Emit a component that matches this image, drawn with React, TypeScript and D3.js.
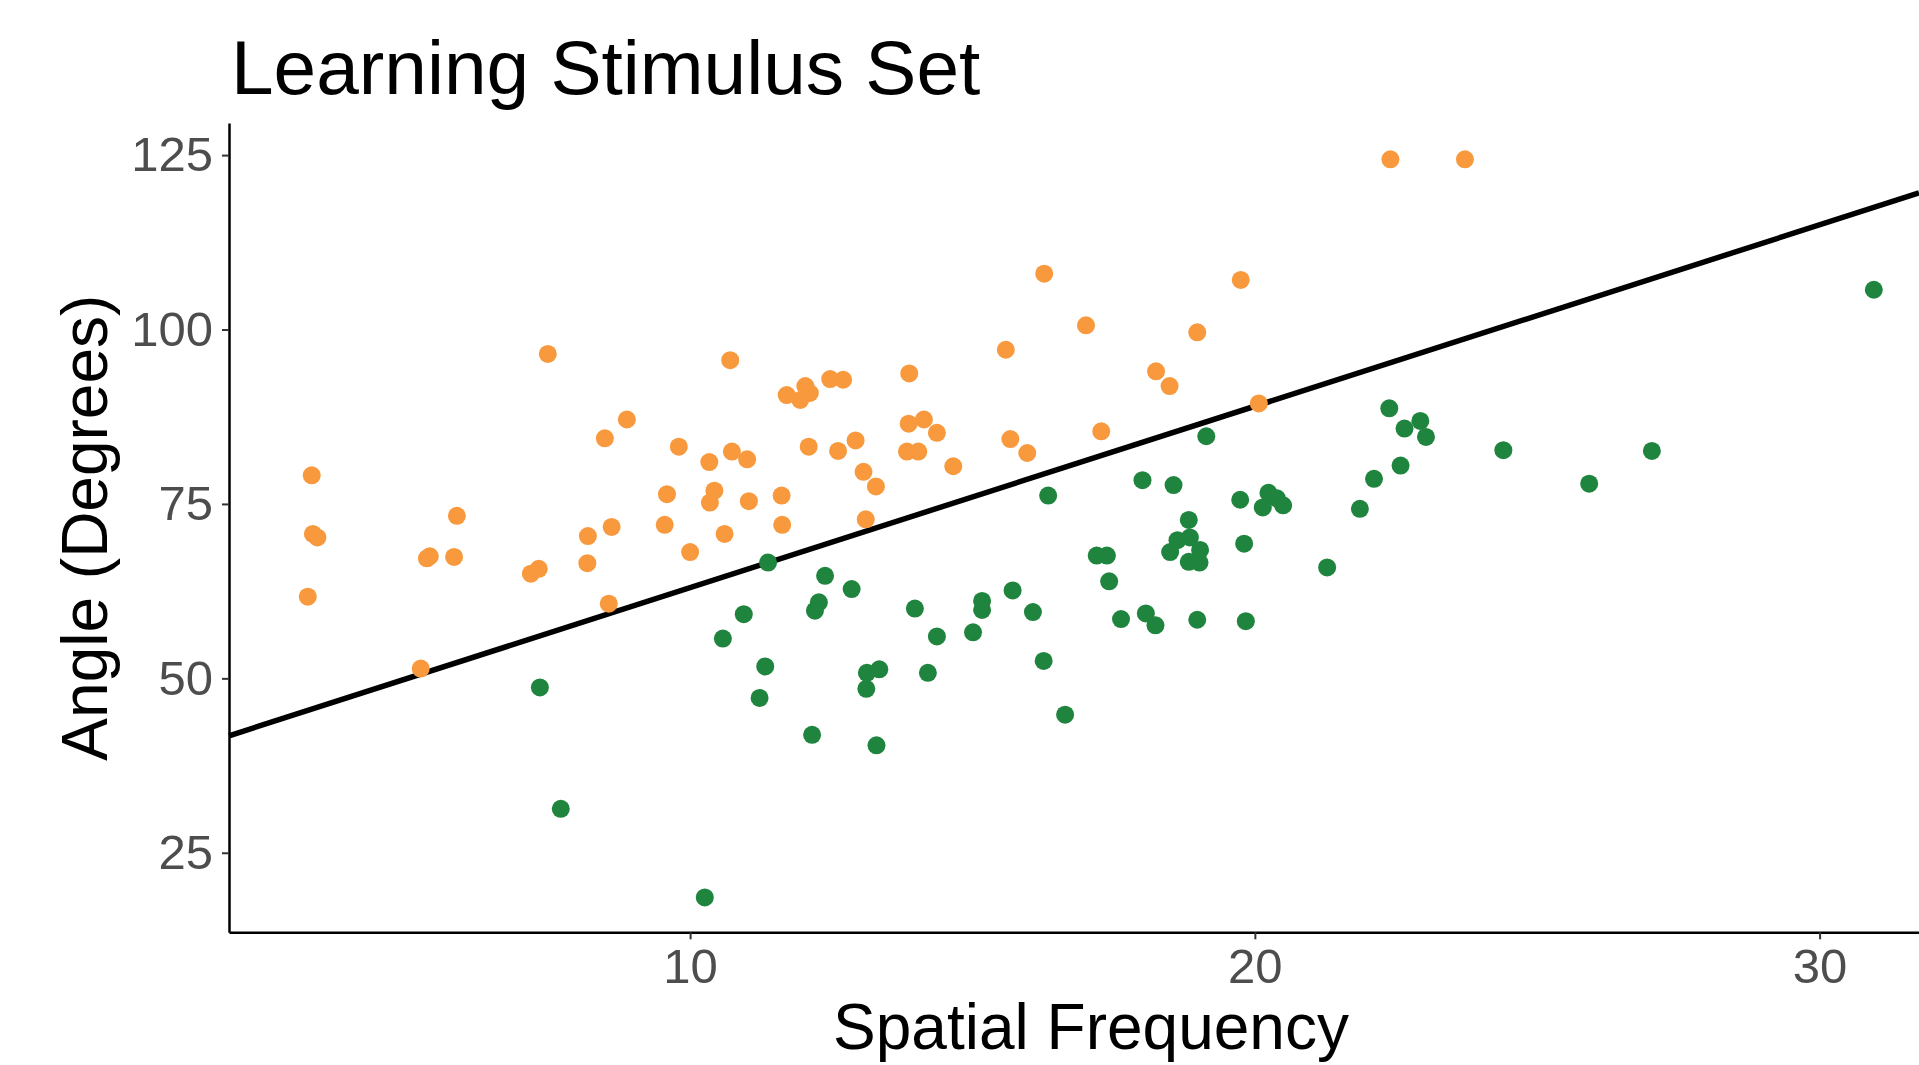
import React, { useEffect, useRef } from 'react';
import * as d3 from 'd3';

// spatial frequency / angle pairs
const orangeSF = [3.30, 3.32, 3.40, 3.23, 5.23, 5.34, 5.39, 5.82, 5.87, 7.18, 7.32, 7.48, 8.19, 8.18, 8.49, 8.56,
  8.61, 8.88, 9.55, 9.59, 9.80, 10.00, 10.34, 10.43, 10.35, 10.61, 10.71, 10.74, 11.01, 11.04, 11.62, 11.63,
  11.71, 11.95, 12.04, 12.12, 12.10, 12.48, 12.71, 12.62, 12.93, 13.07, 13.11, 13.29, 13.84, 14.04, 13.87, 14.14,
  13.88, 14.37, 14.66, 15.59, 15.67, 15.97, 16.27, 17.01, 17.28, 18.25, 18.49, 18.98, 19.75, 20.07, 22.40, 23.72];
const orangeAngle = [79.1, 70.7, 70.2, 61.7, 51.4, 67.2, 67.5, 67.4, 73.3, 65.0, 65.7, 96.5, 70.4, 66.5, 84.4, 60.7,
  71.7, 87.1, 72.0, 76.4, 83.2, 68.1, 81.0, 76.9, 75.2, 70.7, 95.6, 82.5, 81.4, 75.4, 76.2, 72.0,
  90.6, 89.9, 91.9, 90.9, 83.2, 92.9, 92.8, 82.6, 84.1, 79.6, 72.8, 77.5, 82.5, 82.5, 86.5, 87.1,
  93.7, 85.2, 80.4, 97.1, 84.3, 82.3, 108.0, 100.6, 85.4, 94.0, 91.9, 99.6, 107.1, 89.4, 124.4, 124.4];

const greenSF = [7.34, 7.71, 10.26, 10.58, 10.95, 11.23, 11.33, 11.38, 12.16, 12.21, 12.28, 12.39, 12.86, 13.12, 13.13, 13.35,
  13.30, 13.98, 14.21, 14.37, 15.01, 15.17, 15.17, 15.71, 16.07, 16.26, 16.34, 16.64, 17.20, 17.38, 17.42, 17.63,
  18.01, 18.07, 18.24, 18.56, 18.83, 18.63, 18.85, 19.03, 18.50, 18.83, 19.02, 18.98, 19.14, 19.74, 19.81, 19.84,
  20.24, 20.39, 20.50, 20.14, 21.28, 21.86, 22.11, 22.38, 22.65, 22.93, 23.03, 22.58, 24.40, 25.92, 27.03, 30.96];
const greenAngle = [48.7, 31.3, 18.6, 55.7, 59.2, 47.2, 51.7, 66.6, 41.9, 59.7, 60.9, 64.7, 62.8, 48.5, 50.8, 51.3,
  40.4, 60.0, 50.8, 56.0, 56.6, 61.1, 59.8, 62.6, 59.5, 52.5, 76.2, 44.8, 67.6, 67.6, 63.9, 58.5,
  78.4, 59.3, 57.6, 77.7, 72.7, 69.8, 70.2, 68.4, 68.1, 66.7, 66.6, 58.4, 84.7, 75.6, 69.3, 58.2,
  76.6, 75.8, 74.8, 74.5, 65.9, 74.3, 78.6, 88.7, 85.8, 86.9, 84.6, 80.5, 82.7, 77.9, 82.6, 105.7];

const lineIntercept = 37.0;
const lineSlope = 2.6;

const xTicks = [10, 20, 30];
const yTicks = [25, 50, 75, 100, 125];

const W = 1919;
const H = 1065;
const FONT = '"Liberation Sans", Arial, Helvetica, sans-serif';

export default function App() {
  const svgRef = useRef<SVGSVGElement>(null);

  useEffect(() => {
    if (!svgRef.current) return;
    const svg = d3.select(svgRef.current);
    svg.selectAll('*').remove();

    const left = 229, right = W, top = 123, bottom = 932.3;

    const x = d3.scaleLinear().domain([1.835, 31.76]).range([left, right]);
    const y = d3.scaleLinear().domain([13.6, 129.6]).range([bottom, top]);

    svg.append('rect').attr('width', W).attr('height', H).attr('fill', '#ffffff');

    // title
    svg.append('text')
      .attr('x', 231)
      .attr('y', 94)
      .attr('font-family', FONT)
      .attr('font-size', 76.6)
      .attr('fill', '#000')
      .text('Learning Stimulus Set');

    // fitted line
    const line = d3.line<number>()
      .x(d => x(d))
      .y(d => y(lineIntercept + lineSlope * d));

    svg.append('path')
      .datum(x.domain())
      .attr('fill', 'none')
      .attr('stroke', '#000')
      .attr('stroke-width', 5.5)
      .attr('d', line);

    const pts = svg.append('g');
    pts.selectAll('circle.o')
      .data(orangeSF.map((v, i) => [v, orangeAngle[i]]))
      .join('circle')
      .attr('class', 'o')
      .attr('cx', d => x(d[0]))
      .attr('cy', d => y(d[1]))
      .attr('r', 9)
      .attr('fill', '#F8993D');

    pts.selectAll('circle.g')
      .data(greenSF.map((v, i) => [v, greenAngle[i]]))
      .join('circle')
      .attr('class', 'g')
      .attr('cx', d => x(d[0]))
      .attr('cy', d => y(d[1]))
      .attr('r', 9)
      .attr('fill', '#1F853E');

    // axes
    const xAxis = svg.append('g')
      .attr('transform', `translate(0,${bottom})`)
      .call(d3.axisBottom(x).tickValues(xTicks).tickSize(7).tickSizeOuter(0).tickPadding(9));
    const yAxis = svg.append('g')
      .attr('transform', `translate(${left},0)`)
      .call(d3.axisLeft(y).tickValues(yTicks).tickSize(7).tickSizeOuter(0).tickPadding(9));

    [xAxis, yAxis].forEach(ax => {
      ax.select('.domain').attr('stroke', '#000').attr('stroke-width', 2.5);
      ax.selectAll('.tick line').attr('stroke', '#333').attr('stroke-width', 2);
      ax.selectAll('.tick text')
        .attr('font-family', FONT)
        .attr('font-size', 49)
        .attr('fill', '#4D4D4D');
    });

    // axis titles
    svg.append('text')
      .attr('x', 1091)
      .attr('y', 1049)
      .attr('text-anchor', 'middle')
      .attr('font-family', FONT)
      .attr('font-size', 64)
      .attr('fill', '#000')
      .text('Spatial Frequency');

    svg.append('text')
      .attr('transform', `translate(107,${(top + bottom) / 2}) rotate(-90)`)
      .attr('text-anchor', 'middle')
      .attr('font-family', FONT)
      .attr('font-size', 64)
      .attr('fill', '#000')
      .text('Angle (Degrees)');
  }, []);

  return (
    <svg
      ref={svgRef}
      width={W}
      height={H}
      style={{ position: 'absolute', left: 0, top: 0, display: 'block' }}
    />
  );
}
